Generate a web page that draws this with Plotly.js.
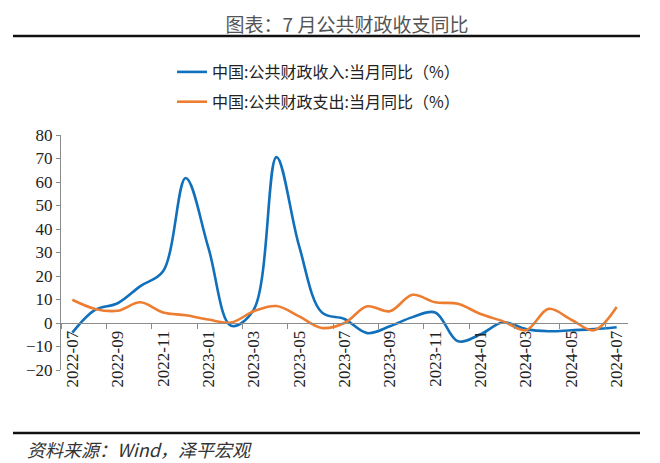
<!DOCTYPE html>
<html>
<head>
<meta charset="utf-8">
<script src="https://cdn.plot.ly/plotly-3.0.1.min.js"></script>
<style>
  html, body { margin: 0; padding: 0; background: #fff; }
  #chart { width: 660px; height: 463px; }
</style>
</head>
<body>
<div id="chart"></div>
<script>
// monthly YoY
var months = ['2022-07', '2022-08', '2022-09', '2022-10', '2022-11', '2022-12',
              '2023-01', '2023-02', '2023-03', '2023-04', '2023-05', '2023-06',
              '2023-07', '2023-08', '2023-09', '2023-10', '2023-11', '2023-12',
              '2024-01', '2024-02', '2024-03', '2024-04', '2024-05', '2024-06', '2024-07'];
var revenue = [-4.1, 5.6, 8.4, 15.7, 22.0, 61.7, 32.0, -1.2, 5.7, 70.6, 32.7, 4.5,
               1.7, -4.3, -1.4, 2.5, 4.5, -7.8, -4.8, 0.3, -2.6, -3.5, -3.1, -2.6, -1.8];
var spending = [9.9, 6.0, 5.2, 8.8, 4.5, 3.3, 1.5, 0.2, 5.0, 7.2, 2.8, -2.1,
                0.0, 7.1, 5.0, 12.0, 8.8, 8.2, 3.8, 0.7, -3.1, 6.0, 1.4, -3.1, 6.8];
var seriesNames = ['中国:公共财政收入:当月同比（%）', '中国:公共财政支出:当月同比（%）'];
var yTicks = [-20, -10, 0, 10, 20, 30, 40, 50, 60, 70, 80];

var cjk = 'Noto Sans CJK SC, sans-serif';
var serif = 'Liberation Serif, Times New Roman, serif';

var traces = [
    { x: months, y: revenue, name: seriesNames[0], legendgroup: 'rev', type: 'scatter', mode: 'lines',
      line: { color: '#1170bb', width: 2.6, shape: 'spline', smoothing: 1 } },
    { x: months, y: spending, name: seriesNames[1], legendgroup: 'exp', type: 'scatter', mode: 'lines',
      line: { color: '#ed7d31', width: 2.6, shape: 'spline', smoothing: 1 } }
];

// plot area in pixels: left 61, right 628, top 135, bottom 370
function px(x) { return (x - 61) / 567; }
function py(y) { return (370 - y) / 235; }

var layout = {
    width: 660, height: 463,
    margin: { t: 135, r: 32, b: 93, l: 61 },
    paper_bgcolor: '#fff', plot_bgcolor: '#fff',
    showlegend: true,
    title: { text: '图表：7 月公共财政收支同比', x: 347 / 660, xanchor: 'center', y: 1 - 25 / 463, yanchor: 'middle',
             font: { family: cjk, size: 19, color: '#555' } },
    legend: { orientation: 'v', x: px(172), xanchor: 'left', y: py(55), yanchor: 'top',
              font: { family: cjk, size: 16, color: '#222' }, itemwidth: 30, tracegroupgap: 6 },
    xaxis: {
        type: 'category', range: [-0.5, 24.5], fixedrange: true,
        anchor: 'free', position: 0.2,
        showline: true, linecolor: '#8c8c8c', linewidth: 1,
        showgrid: false, zeroline: false,
        dtick: 2, tickson: 'boundaries', ticks: 'outside', ticklen: 5, tickcolor: '#8c8c8c',
        tickangle: -90, tickfont: { family: serif, size: 17, color: '#222' }
    },
    yaxis: {
        range: [-20, 80], fixedrange: true,
        tickvals: yTicks, ticks: 'outside', ticklen: 4, tickcolor: '#8c8c8c',
        showline: true, linecolor: '#8c8c8c', linewidth: 1,
        showgrid: false, zeroline: false,
        tickfont: { family: serif, size: 17, color: '#222' }
    },
    shapes: [
        { type: 'line', xref: 'paper', yref: 'paper', x0: px(13), x1: px(640), y0: py(36), y1: py(36),
          line: { color: '#111', width: 2.6 } },
        { type: 'line', xref: 'paper', yref: 'paper', x0: px(13), x1: px(640), y0: py(433), y1: py(433),
          line: { color: '#111', width: 2.6 } }
    ],
    annotations: [
        { text: '<i>资料来源：Wind，泽平宏观</i>', xref: 'paper', yref: 'paper', x: px(25), y: py(449),
          xanchor: 'left', yanchor: 'middle', showarrow: false,
          font: { family: cjk, size: 18, color: '#333' } }
    ]
};

Plotly.newPlot('chart', traces, layout, { displayModeBar: false, staticPlot: true });
</script>
</body>
</html>
